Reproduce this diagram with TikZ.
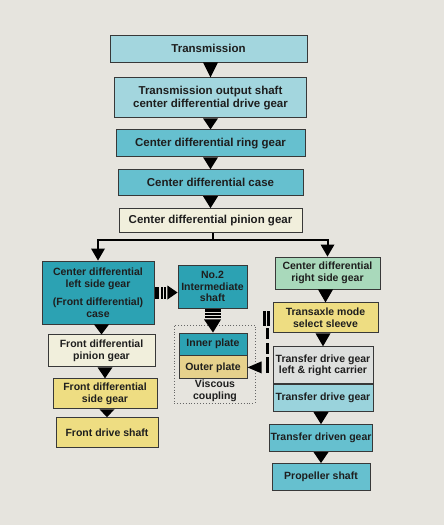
\documentclass[tikz,border=0pt]{standalone}
\usepackage{fontspec}
\setmainfont{Liberation Sans}
\usetikzlibrary{positioning,calc}

\definecolor{bgc}{HTML}{E6E4DE}
\definecolor{skyc}{HTML}{A3D6DE}
\definecolor{bluec}{HTML}{66C0CF}
\definecolor{tealc}{HTML}{2CA2B3}
\definecolor{creamc}{HTML}{F1EFDC}
\definecolor{yelc}{HTML}{EEDD82}
\definecolor{tanc}{HTML}{E6D18C}
\definecolor{greenc}{HTML}{A9D9BB}
\definecolor{greyc}{HTML}{DDDFDD}
\definecolor{linec}{HTML}{383838}
\definecolor{txtc}{HTML}{1E1E1E}

% black wedge from the bottom of one box to the top of the next
\newcommand{\tridown}[2]{\fill ($(#1.south -| #2.north)+(-7.5,0)$) -- ($(#1.south -| #2.north)+(7.5,0)$) -- (#2.north) -- cycle;}

\begin{document}
\begin{tikzpicture}[x=1pt, y=-1pt, every node/.style={text=txtc, align=center},
		box/.style={rectangle, draw=linec, line width=0.9pt, inner sep=1pt},
		big/.style={box, font=\bfseries\fontsize{11.5}{12.5}\selectfont},
		small/.style={box, font=\bfseries\fontsize{10.5}{11.5}\selectfont},
		link/.style={line width=2pt, draw=black}]
	\fill[bgc] (0,0) rectangle (444,525);

	% main chain
	\node[big, fill=skyc, minimum width=197pt, minimum height=27pt] (trans) at (208.5,48.5) {Transmission};
	\node[big, fill=skyc, minimum width=192pt, minimum height=40pt, below=15pt of trans, xshift=2pt] (outshaft) {Transmission output shaft\\center differential drive gear};
	\node[big, fill=bluec, minimum width=189pt, minimum height=27pt, below=11pt of outshaft] (ring) {Center differential ring gear};
	\node[big, fill=bluec, minimum width=185pt, minimum height=26pt, below=12pt of ring] (case) {Center differential case};
	\node[big, fill=creamc, minimum width=183pt, minimum height=24pt, below=12pt of case] (pinion) {Center differential pinion gear};

	% front side
	\node[small, fill=tealc, minimum width=112pt, minimum height=63pt] (lside) at (98,292.5) {Center differential\\left side gear\\[7pt](Front differential)\\case};
	\node[small, fill=creamc, minimum width=107pt, minimum height=32pt, below=10pt of lside, xshift=3.5pt] (fpinion) {Front differential\\pinion gear};
	\node[small, fill=yelc, minimum width=104pt, minimum height=30pt, below=11pt of fpinion, xshift=3.5pt] (fside) {Front differential\\side gear};
	\node[small, fill=yelc, minimum width=102pt, minimum height=30pt, below=8pt of fside, xshift=2pt] (fshaft) {Front drive shaft};

	% viscous coupling
	\node[small, fill=tealc, minimum width=69pt, minimum height=43pt] (no2) at (212.5,286.5) {No.2\\Intermediate\\shaft};
	\node[draw=gray!80!black, dotted, line width=0.9pt, minimum width=81pt, minimum height=78pt] (vcbox) at (214.5,364) {};
	\node[small, fill=tealc, minimum width=68pt, minimum height=22pt] (inner) at (213,344) {Inner plate};
	\node[small, fill=tanc, minimum width=68pt, minimum height=23pt, below=0pt of inner] (outer) {Outer plate};
	\node[font=\bfseries\fontsize{10.5}{11.5}\selectfont] (visc) at (215,391) {Viscous\\coupling};

	% rear side
	\node[small, fill=greenc, minimum width=105pt, minimum height=32pt] (rside) at (327.5,273) {Center differential\\right side gear};
	\node[small, fill=yelc, minimum width=105pt, minimum height=30pt, below=13pt of rside, xshift=-2pt] (sleeve) {Transaxle mode\\select sleeve};
	\node[small, fill=greyc, minimum width=100pt, minimum height=37pt, below=13pt of sleeve, xshift=-2.5pt] (tcarrier) {Transfer drive gear\\left \& right carrier};
	\node[small, fill=skyc!85!bluec, minimum width=100pt, minimum height=27pt, below=0pt of tcarrier] (tdrive) {Transfer drive gear};
	\node[small, fill=bluec, minimum width=98pt, minimum height=27pt, below=12pt of tdrive, xshift=-2pt] (tdriven) {Transfer driven gear};
	\node[small, fill=bluec, minimum width=98pt, minimum height=27pt, below=11pt of tdriven] (prop) {Propeller shaft};

	\tridown{trans}{outshaft}
	\tridown{outshaft}{ring}
	\tridown{ring}{case}
	\tridown{case}{pinion}
	\tridown{lside}{fpinion}
	\tridown{fpinion}{fside}
	\tridown{fside}{fshaft}
	\tridown{rside}{sleeve}
	\tridown{sleeve}{tcarrier}
	\tridown{tdrive}{tdriven}
	\tridown{tdriven}{prop}

	% split below the pinion gear
	\coordinate (split) at (213,240);
	\coordinate (ltop) at ($(lside.north)+(0,-12)$);
	\coordinate (rtop) at ($(rside.north)+(0,-12)$);
	\draw[link] (split |- pinion.south) -- (split);
	\draw[link] (ltop) |- (split) -| (rtop);
	\fill ($(ltop)+(-7,0)$) -- ($(ltop)+(7,0)$) -- (lside.north) -- cycle;
	\fill ($(rtop)+(-7,0)$) -- ($(rtop)+(7,0)$) -- (rside.north) -- cycle;

	% striped arrows
	\fill ($(lside.east)+(1,-6)$) rectangle ++(4,12);
	\fill ($(lside.east)+(7,-6)$) rectangle ++(2,12);
	\fill ($(lside.east)+(10,-6)$) rectangle ++(2,12);
	\fill ($(lside.east)+(13,-7)$) -- ($(lside.east)+(13,7)$) -- (no2.west |- lside.east) -- cycle;

	\fill ($(no2.south)+(-8,0.5)$) rectangle ++(16,3);
	\fill ($(no2.south)+(-8,5)$) rectangle ++(16,2);
	\fill ($(no2.south)+(-8,8)$) rectangle ++(16,2);
	\fill ($(no2.south)+(-8.5,11)$) -- ($(no2.south)+(8.5,11)$) -- (inner.north) -- cycle;

	\fill ($(sleeve.west)+(-10,-7)$) rectangle ++(3,15);
	\fill ($(sleeve.west)+(-6,-7)$) rectangle ++(3,15);
	\fill ($(sleeve.west)+(-7,10)$) rectangle ++(3.5,11);
	\fill ($(sleeve.west)+(-7,25)$) rectangle ++(3.5,11);
	\fill ($(sleeve.west)+(-7,39)$) rectangle ++(3.5,16);
	\fill ($(outer.east -| sleeve.west)+(-11,-6)$) -- ($(outer.east -| sleeve.west)+(-11,6)$) -- (outer.east) -- cycle;
\end{tikzpicture}
\end{document}
